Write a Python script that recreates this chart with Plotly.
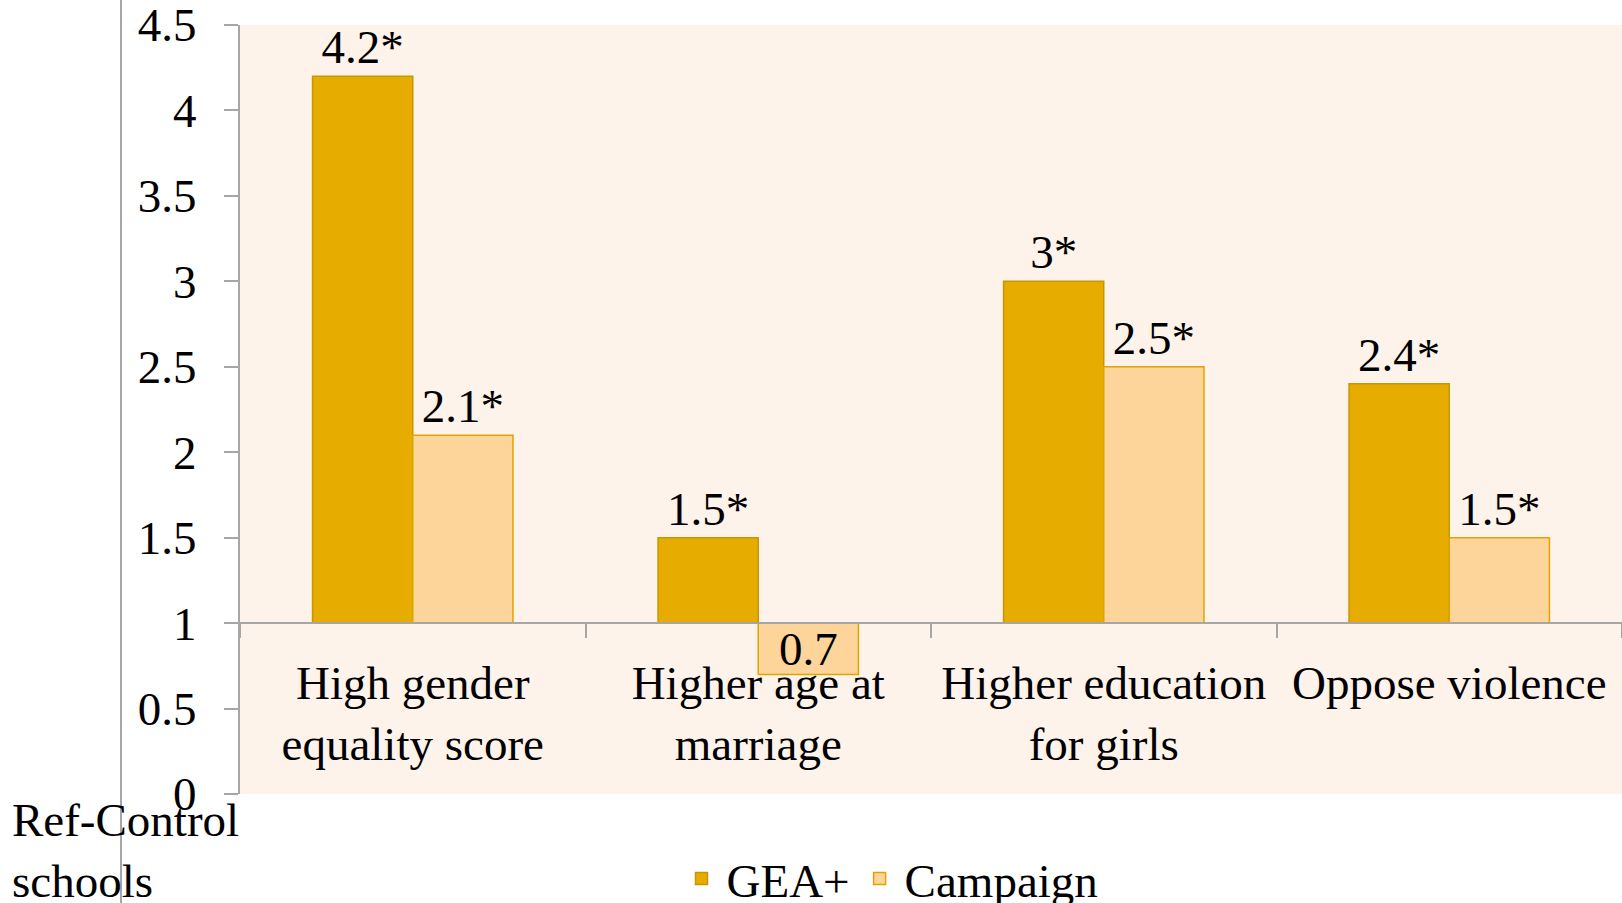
import plotly.graph_objects as go

categories = ["High gender<br>equality score", "Higher age at<br>marriage",
              "Higher education<br>for girls", "Oppose violence"]
gea_values = [4.2, 1.5, 3.0, 2.4]
gea_labels = ["4.2*", "1.5*", "3*", "2.4*"]
campaign_values = [2.1, 0.7, 2.5, 1.5]
campaign_labels = ["2.1*", "0.7", "2.5*", "1.5*"]
reference_value = 1.0
y_ticks = [0, 0.5, 1, 1.5, 2, 2.5, 3, 3.5, 4, 4.5]

FONT = "Liberation Serif, Times New Roman, serif"
FS = 47
W, H = 1622, 903
ML, MR, MT, MB = 240, 0, 25, 109
PW = W - ML - MR
PH = H - MT - MB
BOTTOM = H - MB


def positions(values):
    return ["inside" if v < reference_value else "outside" for v in values]


fig = go.Figure()
fig.add_trace(go.Bar(
    name="GEA+", x=categories, y=[v - reference_value for v in gea_values],
    base=reference_value, text=gea_labels, textposition=positions(gea_values),
    constraintext="none", cliponaxis=False,
    textfont=dict(family=FONT, size=FS, color="black"),
    marker=dict(color="#E6AC00", line=dict(color="#C99500", width=1.5)),
))
fig.add_trace(go.Bar(
    name="Campaign", x=categories, y=[v - reference_value for v in campaign_values],
    base=reference_value, text=campaign_labels, textposition=positions(campaign_values),
    insidetextanchor="middle",
    constraintext="none", cliponaxis=False,
    textfont=dict(family=FONT, size=FS, color="black"),
    marker=dict(color="#FDD49A", line=dict(color="#E0A300", width=1.5)),
))

fig.update_layout(
    width=W, height=H,
    margin=dict(l=ML, r=MR, t=MT, b=MB, pad=0, autoexpand=False),
    paper_bgcolor="white", plot_bgcolor="#FEF3EA",
    font=dict(family=FONT, size=FS, color="black"),
    barmode="group", bargap=0.42, bargroupgap=0,
    showlegend=True,
    legend=dict(orientation="h", x=(890 - ML) / PW, xanchor="center",
                y=(BOTTOM - 879) / PH, yanchor="middle",
                font=dict(family=FONT, size=FS), bgcolor="rgba(0,0,0,0)",
                itemwidth=40, tracegroupgap=0),
)
fig.update_xaxes(
    anchor="free", position=reference_value / 4.5,
    showline=True, linecolor="#A6A6A6", linewidth=2,
    ticks="outside", tickson="boundaries", ticklen=14, tickcolor="#A6A6A6", tickwidth=2,
    showgrid=False, zeroline=False, ticklabelstandoff=18, automargin=False,
    tickfont=dict(family=FONT, size=FS),
)
fig.update_yaxes(
    range=[0, 4.5], tickvals=y_ticks, ticktext=[f"{t:g}" for t in y_ticks],
    showline=True, linecolor="#A6A6A6", linewidth=2,
    ticks="outside", ticklen=14, tickcolor="#A6A6A6", tickwidth=2,
    showgrid=False, zeroline=False, ticklabelstandoff=18, automargin=False,
    ticklabeloverflow="allow",
    tickfont=dict(family=FONT, size=FS),
)

fig.add_annotation(
    text="Ref-Control<br>schools", xref="paper", yref="paper",
    x=(10 - ML) / PW, y=(BOTTOM - 850) / PH,
    xanchor="left", yanchor="middle", align="left", showarrow=False,
    font=dict(family=FONT, size=FS, color="black"),
)
fig.add_shape(
    type="line", xref="paper", yref="paper",
    x0=(121 - ML) / PW, x1=(121 - ML) / PW,
    y0=(BOTTOM - H) / PH, y1=BOTTOM / PH,
    line=dict(color="#A6A6A6", width=2), layer="above",
)

fig.write_html(
    "out.html",
    config={"displayModeBar": False},
    post_script="document.body.style.margin='0';document.body.style.overflow='hidden';",
)
